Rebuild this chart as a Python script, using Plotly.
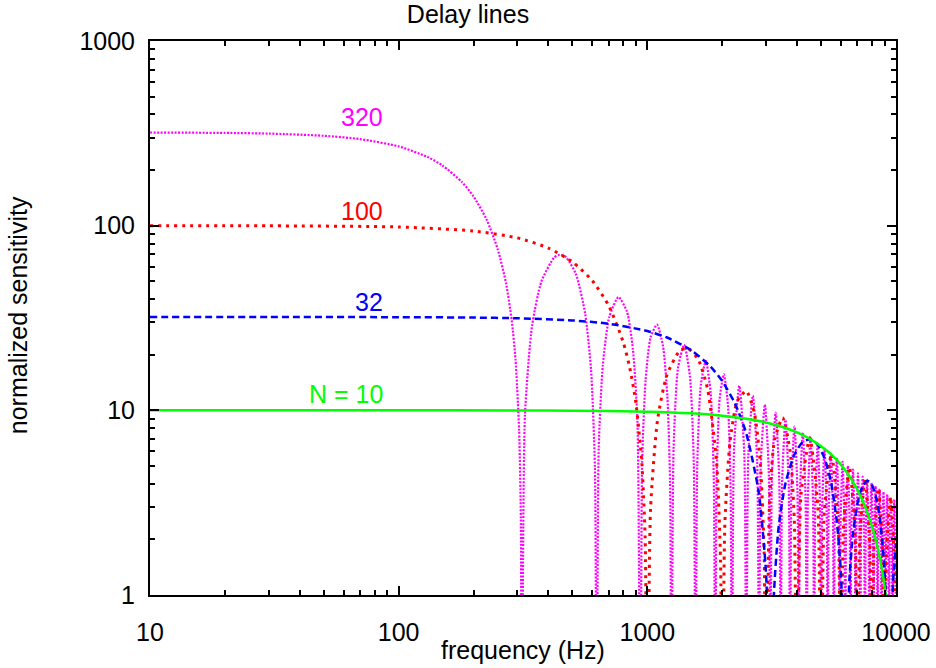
import math
import plotly.graph_objects as go

# ---- data (frequency in Hz, normalized sensitivity) ----
# values of 0.1 mark the response nulls (below the visible range of the log axis)

green_f = [10, 100, 300, 500, 1000, 1500, 2000, 2500, 3000, 3500, 4000, 4500, 5000, 5500,
           6000, 6500, 7000, 7500, 8000, 8250, 8500, 8750, 9000, 9250, 9500, 9800, 10000]
green_s = [10.0, 10.0, 9.99, 9.96, 9.84, 9.64, 9.36, 9.01, 8.60, 8.12, 7.59, 7.01, 6.39, 5.75,
           5.08, 4.39, 3.71, 3.03, 2.36, 2.04, 1.72, 1.41, 1.11, 0.82, 0.53, 0.21, 0.1]

blue_f = [10, 30, 100, 200, 300, 500, 700, 1000, 1200, 1500, 1800, 2000, 2250, 2500, 2800, 3000, 3100, 3125,
          3218.75, 3375, 3593.75, 3906.25, 4218.75, 4531.25, 4843.75, 5156.25, 5468.75, 5781.25, 6000, 6156.25, 6250,
          6343.75, 6500, 6718.75, 7031.25, 7343.75, 7656.25, 7968.75, 8281.25, 8593.75, 8906.25, 9125, 9375,
          9531.25, 9750, 10000]
blue_s = [32.0, 31.99, 31.95, 31.79, 31.52, 30.67, 29.43, 26.88, 24.79, 21.19, 17.19, 14.41, 10.91, 7.49, 3.66, 1.33, 0.26, 0.1,
          0.93, 2.35, 4.03, 5.78, 6.74, 6.96, 6.52, 5.52, 4.14, 2.51, 1.33, 0.49, 0.1,
          0.48, 1.23, 2.17, 3.23, 3.90, 4.15, 3.99, 3.46, 2.65, 1.64, 0.88, 0.1,
          0.53, 1.22, 1.90]

red_f = [10, 30, 100, 200, 300, 400, 500, 600, 700, 800, 850, 900, 950, 980, 1000,
         1030, 1100, 1200, 1350, 1450, 1600, 1750, 1900, 1970, 2000,
         2050, 2150, 2300, 2500, 2700, 2850, 2950, 3000,
         3100, 3250, 3500, 3750, 3900, 4000,
         4150, 4500, 4850, 5000,
         5150, 5500, 5850, 6000,
         6150, 6500, 6850, 7000,
         7150, 7500, 7850, 8000,
         8150, 8500, 8850, 9000,
         9150, 9500, 9850, 10000]
red_s = [99.98, 99.85, 98.36, 93.55, 85.84, 75.68, 63.66, 50.46, 36.79, 23.39, 17.00, 10.93, 5.24, 2.04, 0.1,
         2.91, 8.94, 15.59, 21.01, 21.69, 18.93, 12.87, 5.18, 1.52, 0.1,
         2.43, 6.73, 11.21, 12.75, 9.55, 5.08, 1.69, 0.1,
         3.18, 6.94, 9.11, 6.02, 2.53, 0.1,
         3.49, 7.10, 2.99, 0.1,
         2.82, 5.82, 2.48, 0.1,
         2.36, 4.93, 2.13, 0.1,
         2.04, 4.28, 1.86, 0.1,
         1.79, 3.79, 1.65, 0.1,
         1.60, 3.40, 1.49, 0.1]

pink_f = [10, 20, 30, 50, 70, 100, 130, 150, 180, 200, 225, 250, 270, 285, 295, 305, 310, 312.5,
          321.9, 343.75, 375, 421.9, 443.75, 468.75, 515.6, 562.5, 593.75, 615.6, 625,
          637.5, 662.5, 703.1, 765.6, 828.1, 875, 912.5, 937.5,
          953.1, 984.4, 1031.25, 1093.75, 1156.25, 1203.1, 1234.4, 1250,
          1275, 1328.1, 1406.25, 1484.4, 1537.5, 1562.5,
          1587.5, 1640.6, 1718.75, 1796.9, 1850, 1875,
          1900, 1953.1, 2031.25, 2109.4, 2162.5, 2187.5,
          2234.4, 2343.75, 2453.1, 2500,
          2546.9, 2656.25, 2765.6, 2812.5,
          2859.4, 2968.75, 3078.1, 3125,
          3171.9, 3281.25, 3390.6, 3437.5,
          3484.4, 3593.75, 3703.1, 3750,
          3796.9, 3906.25, 4015.6, 4062.5,
          4109.4, 4218.75, 4328.1, 4375,
          4421.9, 4531.25, 4640.6, 4687.5,
          4734.4, 4843.75, 4953.1, 5000,
          5046.9, 5156.25, 5265.6, 5312.5,
          5359.4, 5468.75, 5578.1, 5625,
          5671.9, 5781.25, 5890.6, 5937.5,
          5984.4, 6093.75, 6203.1, 6250,
          6296.9, 6406.25, 6515.6, 6562.5,
          6609.4, 6718.75, 6828.1, 6875,
          6921.9, 7031.25, 7140.6, 7187.5,
          7234.4, 7343.75, 7453.1, 7500,
          7546.9, 7656.25, 7765.6, 7812.5,
          7859.4, 7968.75, 8078.1, 8125,
          8171.9, 8281.25, 8390.6, 8437.5,
          8484.4, 8593.75, 8703.1, 8750,
          8796.9, 8906.25, 9015.6, 9062.5,
          9109.4, 9218.75, 9328.1, 9375,
          9421.9, 9531.25, 9640.6, 9687.5,
          9734.4, 9843.75, 9953.1, 10000]
pink_s = [319.5, 317.9, 315.2, 306.7, 294.3, 268.8, 236.3, 211.8, 171.8, 144.0, 109.0, 74.8, 49.1, 30.6, 18.9, 7.86, 2.58, 0.1,
          9.31, 28.61, 49.89, 67.23, 69.48, 67.91, 55.01, 33.26, 16.57, 4.87, 0.1,
          6.26, 17.69, 32.02, 41.07, 34.25, 21.38, 8.68, 0.1,
          5.22, 14.68, 24.97, 29.11, 22.28, 12.01, 4.03, 0.1,
          6.21, 16.95, 22.64, 15.17, 5.15, 0.1,
          4.99, 13.73, 18.53, 12.53, 4.28, 0.1,
          4.17, 11.53, 15.68, 10.68, 3.66, 0.1,
          6.47, 13.59, 5.90, 0.1,
          5.68, 11.99, 5.23, 0.1,
          5.06, 10.74, 4.70, 0.1,
          4.56, 9.72, 4.27, 0.1,
          4.16, 8.88, 3.91, 0.1,
          3.82, 8.17, 3.61, 0.1,
          3.53, 7.57, 3.35, 0.1,
          3.28, 7.05, 3.12, 0.1,
          3.06, 6.60, 2.93, 0.1,
          2.88, 6.20, 2.76, 0.1,
          2.71, 5.85, 2.60, 0.1,
          2.56, 5.54, 2.47, 0.1,
          2.43, 5.26, 2.34, 0.1,
          2.31, 5.00, 2.23, 0.1,
          2.20, 4.77, 2.13, 0.1,
          2.10, 4.56, 2.04, 0.1,
          2.02, 4.37, 1.96, 0.1,
          1.93, 4.20, 1.88, 0.1,
          1.86, 4.04, 1.81, 0.1,
          1.79, 3.89, 1.74, 0.1,
          1.72, 3.75, 1.68, 0.1,
          1.66, 3.62, 1.62, 0.1,
          1.61, 3.50, 1.57, 0.1,
          1.56, 3.39, 1.52, 0.1,
          1.51, 3.29, 1.48, 0.1]

labels = ["320", "100", "32", "N = 10"]
label_y = [387, 120, 38.5, 12.3]

FONT = "Liberation Sans, Arial, Helvetica, sans-serif"
MAGENTA, RED, BLUE, GREEN = "#ff00ff", "#ff0000", "#0000ff", "#00ff00"

fig = go.Figure()
fig.add_trace(go.Scatter(x=pink_f, y=pink_s, mode="lines",
                         line=dict(color=MAGENTA, width=2.2, dash="2px,1.5px",
                                   shape="spline", smoothing=0.6)))
fig.add_trace(go.Scatter(x=red_f, y=red_s, mode="lines",
                         line=dict(color=RED, width=3, dash="3px,5px",
                                   shape="spline", smoothing=0.6)))
fig.add_trace(go.Scatter(x=blue_f, y=blue_s, mode="lines",
                         line=dict(color=BLUE, width=2.5, dash="7px,4px",
                                   shape="spline", smoothing=0.6)))
fig.add_trace(go.Scatter(x=green_f, y=green_s, mode="lines",
                         line=dict(color=GREEN, width=2.5, shape="spline", smoothing=0.6)))

for txt, yv, col in zip(labels, label_y, [MAGENTA, RED, BLUE, GREEN]):
    fig.add_annotation(x=1.945, y=math.log10(yv), xref="x", yref="y",
                       text=txt, showarrow=False, xanchor="right", yanchor="middle",
                       font=dict(family=FONT, size=25, color=col))

axis_common = dict(type="log", showgrid=False, zeroline=False, showline=True,
                   linecolor="black", linewidth=2, mirror="allticks",
                   tickmode="linear", tick0=0, dtick=1, tickformat="d",
                   ticks="inside", ticklen=9, tickwidth=1.5, tickcolor="black",
                   tickfont=dict(family=FONT, size=25, color="black"),
                   minor=dict(ticks="inside", ticklen=5, tickwidth=1.5, tickcolor="black",
                              dtick="D1", showgrid=False))

fig.update_xaxes(**axis_common, range=[1, 4], ticklabelstandoff=14)
fig.update_yaxes(**axis_common, range=[0, 3], ticklabelstandoff=8)

fig.add_annotation(x=0.5, y=-0.099, xref="paper", yref="paper", text="frequency (Hz)",
                   showarrow=False, xanchor="center", yanchor="middle",
                   font=dict(family=FONT, size=25, color="black"))
fig.add_annotation(x=-0.177, y=0.505, xref="paper", yref="paper", text="normalized sensitivity",
                   showarrow=False, xanchor="center", yanchor="middle", textangle=-90,
                   font=dict(family=FONT, size=25, color="black"))

fig.update_layout(
    width=936, height=668, showlegend=False,
    paper_bgcolor="white", plot_bgcolor="white",
    margin=dict(l=150, r=40, t=41, b=73, autoexpand=False),
    title=dict(text="Delay lines", x=0.5, xref="container", y=1 - 14 / 668, yref="container",
               xanchor="center", yanchor="middle",
               font=dict(family=FONT, size=25, color="black")),
)

fig.write_html("out.html")
